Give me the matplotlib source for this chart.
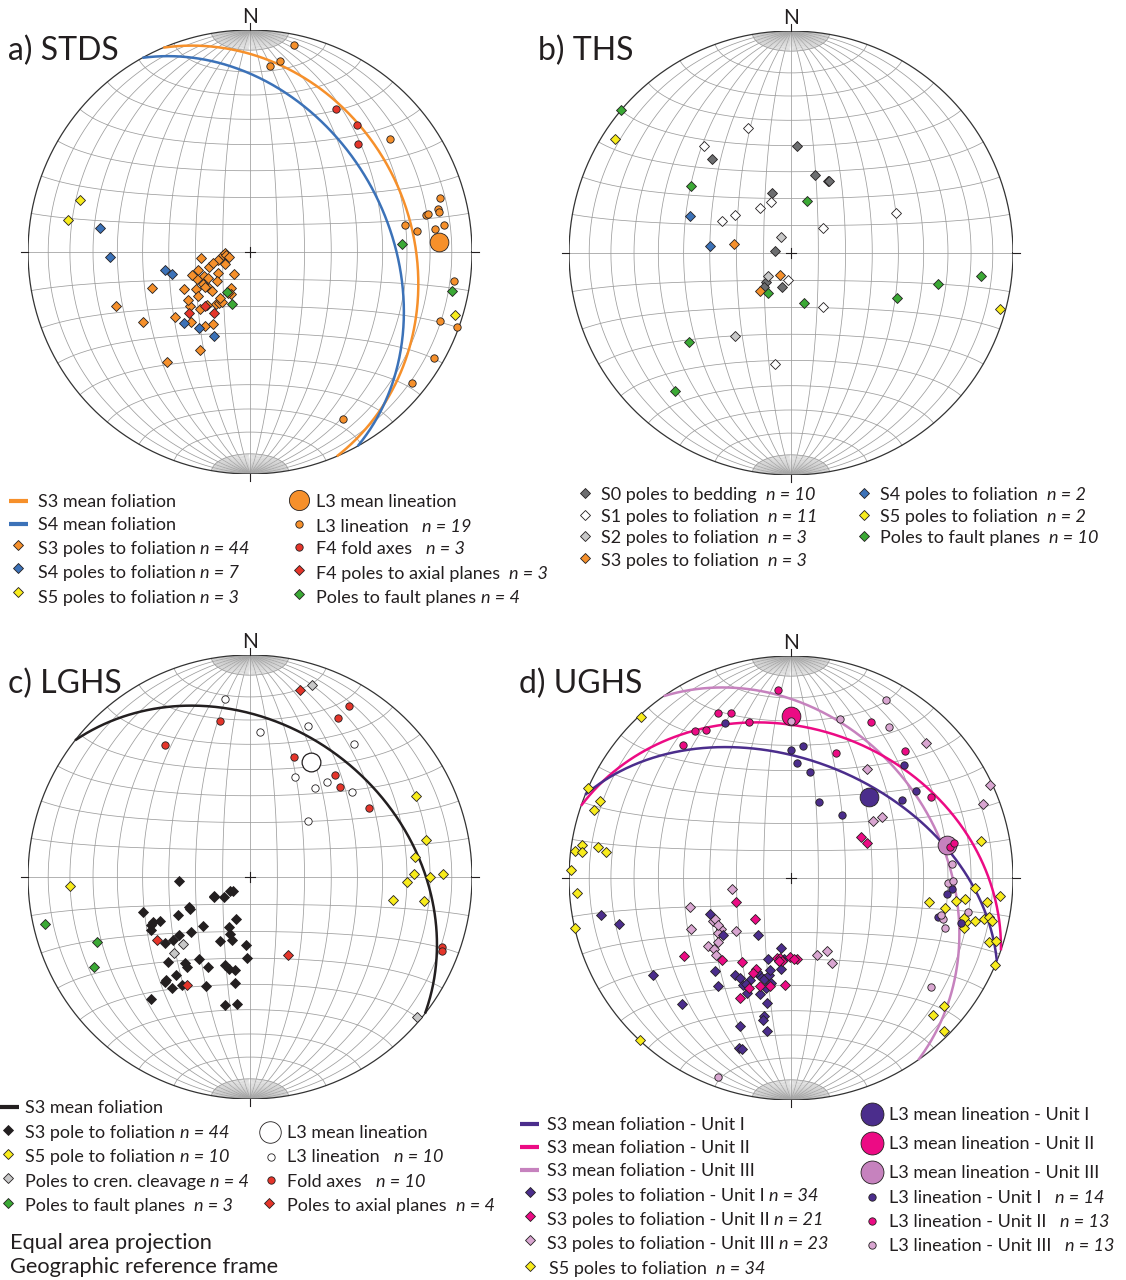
import numpy as np
import matplotlib.pyplot as plt

plt.rcParams['font.family'] = ['Lato', 'DejaVu Sans']

W, H = 1126, 1280
R = 222  # net radius in pixels
INK = '#231F20'

ORANGE = '#F6902B'
BLUE = '#3C72B8'
YELLOW = '#F8EC1C'
GREEN = '#3BA935'
RED = '#E5352A'
DGRAY = '#6D6E70'
LGRAY = '#C8C8C8'
U1 = '#4B2D8C'
U2 = '#EC0B84'
U3 = '#C682BE'
U3_LIGHT = '#D9A6D1'

# ---------------- data: (trend, plunge) for lines/poles, (dip dir, dip) for planes
# a) STDS
stds_s3_plane = (67, 28)
stds_s4_plane = (61, 38)
stds_l3_mean = [(87, 16)]
stds_l3 = [(12, 5), (9, 14), (6, 17), (51, 20), (74, 12), (77, 14), (78, 14), (78, 20),
           (78, 19), (80, 30), (83, 25), (83, 17), (82, 13), (98, 8), (110, 10), (110, 1),
           (120, 5), (129, 7), (151, 15)]
stds_f4_axes = [(31, 26), (40, 26), (45, 32)]
stds_s3_poles = [(263, 72), (264, 80), (267, 81), (263, 81), (257, 82), (255, 78), (244, 80),
                 (250, 74), (253, 76), (251, 70), (243, 71), (237, 76), (217, 80), (243, 68),
                 (236, 69), (229, 74), (228, 70), (250, 51), (241, 62), (236, 66), (232, 69),
                 (224, 70), (208, 75), (230, 65), (213, 67), (211, 68), (209, 69), (204, 73),
                 (228, 60), (221, 62), (219, 65), (248, 35), (229, 53), (237, 42), (220, 56),
                 (211, 58), (207, 60), (207, 49), (217, 38), (209, 73), (232, 61), (238, 72),
                 (248, 67), (213, 70)]
stds_s4_poles = [(279, 32), (268, 37), (258, 58), (254, 60), (223, 54), (214, 56), (203, 56)]
stds_s5_poles = [(287, 21), (280, 18), (107, 4)]
stds_faults = [(87, 32), (101, 8), (210, 73), (199, 70)]
stds_f4_axial = [(225, 58), (220, 64), (211, 64)]

# b) THS
ths_s0 = [(3, 50), (320, 44), (17, 60), (27, 60), (28, 60), (342, 67), (276, 84), (220, 76),
          (219, 74), (194, 77)]
ths_s1 = [(341, 40), (321, 38), (339, 70), (325, 70), (304, 65), (295, 62), (69, 48), (52, 75),
          (186, 80), (149, 67), (188, 48)]
ths_s2 = [(328, 83), (225, 78), (214, 53)]
ths_s3 = [(279, 69), (207, 81), (219, 72)]
ths_s4 = [(290, 50), (275, 60)]
ths_s5 = [(303, 6), (105, 3)]
ths_faults = [(310, 0), (304, 45), (17, 70), (210, 73), (166, 71), (113, 47), (102, 33),
              (97, 15), (229, 39), (220, 20)]

# c) LGHS
lghs_s3_plane = (38, 33)
lghs_s3 = [(267, 64), (242, 75), (232, 78), (236, 81), (231, 82), (244, 65), (242, 65), (252, 48),
           (242, 60), (198, 74), (245, 50), (244, 53), (242, 48), (224, 65), (203, 70), (227, 60),
           (199, 68), (231, 56), (231, 53), (232, 50), (205, 64), (196, 66), (183, 65), (224, 46),
           (212, 54), (217, 50), (215, 49), (205, 53), (196, 56), (193, 55), (189, 55), (182, 60),
           (217, 44), (219, 40), (215, 39), (212, 42), (202, 46), (188, 50), (219, 30), (191, 41),
           (186, 42), (244, 49), (219, 39), (241, 75)]
lghs_s5 = [(267, 20), (64, 18), (78, 20), (83, 26), (89, 27), (90, 20), (89, 14), (92, 30),
           (99, 35), (98, 22)]
lghs_cren = [(18, 10), (225, 55), (225, 50), (130, 2)]
lghs_faults = [(257, 6), (247, 26), (240, 20)]
lghs_axial = [(15, 14), (236, 48), (154, 58), (210, 43)]
lghs_fold_axes = [(349, 29), (327, 30), (30, 12), (29, 19), (20, 42), (40, 40), (45, 42),
                  (60, 38), (110, 9), (111, 8)]
lghs_l3 = [(352, 20), (4, 35), (21, 28), (38, 25), (24, 49), (39, 44), (36, 49), (50, 40),
           (46, 60), (28, 41)]
lghs_l3_mean = [(28, 41)]

# d) UGHS
ughs_plane_u1 = (22, 46)
ughs_plane_u2 = (19, 33)
ughs_plane_u3 = (55, 33)
ughs_mean_u1 = [(44, 48)]
ughs_mean_u2 = [(0, 28)]
ughs_mean_u3 = [(78, 29)]
ughs_s3_u1 = [(259, 14), (255, 21), (235, 25), (221, 26), (246, 57), (230, 57), (210, 66),
              (188, 64), (185, 60), (196, 59), (219, 45), (214, 41), (210, 48), (207, 48),
              (204, 46), (202, 49), (201, 44), (198, 52), (195, 51), (193, 53), (191, 50),
              (195, 45), (193, 48), (193, 55), (186, 56), (191, 42), (191, 37), (191, 35),
              (189, 31), (199, 30), (197, 21), (196, 21), (200, 53), (203, 47)]
ughs_s3_u2 = [(246, 68), (221, 70), (234, 40), (220, 50), (210, 54), (201, 54), (190, 60),
              (188, 60), (181, 61), (176, 60), (183, 50), (203, 41), (196, 48), (60, 60),
              (65, 59), (186, 59), (201, 46), (188, 59), (178, 60), (191, 49), (202, 52)]
ughs_s3_u3 = [(259, 68), (254, 51), (243, 48), (241, 57), (234, 58), (226, 62), (233, 56),
              (229, 54), (231, 50), (227, 51), (224, 50), (35, 40), (55, 53), (56, 49), (45, 15),
              (65, 1), (69, 8), (161, 60), (154, 60), (154, 55), (242, 58), (237, 58), (188, 59)]
ughs_s5 = [(317, 1), (294, 0), (292, 8), (289, 7), (279, 5), (277, 2), (277, 6), (279, 13),
           (278, 17), (272, 1), (266, 4), (257, 0), (223, 0), (79, 14), (93, 18), (95, 6),
           (100, 37), (101, 30), (98, 26), (97, 22), (97, 12), (104, 20), (103, 16), (102, 12),
           (101, 10), (106, 20), (108, 7), (107, 4), (113, 0), (130, 11), (134, 12), (135, 3),
           (103, 21), (102, 8)]
ughs_l3_u1 = [(337, 25), (0, 42), (5, 40), (3, 47), (10, 50), (20, 60), (39, 60), (45, 29),
              (55, 32), (55, 39), (94, 28), (96, 30), (105, 32), (105, 22)]
ughs_l3_u2 = [(356, 16), (336, 20), (340, 22), (345, 28), (327, 22), (330, 24), (321, 24),
              (27, 22), (20, 40), (42, 24), (60, 28), (79, 28), (78, 26)]
ughs_l3_u3 = [(0, 30), (17, 26), (28, 10), (33, 20), (85, 28), (92, 30), (91, 28), (101, 20),
              (105, 30), (108, 28), (128, 21), (200, 5), (104, 31)]


# ---------------- equal-area (Schmidt) lower hemisphere helpers
def project(tp):
    tp = np.asarray(tp, dtype=float).reshape(-1, 2)
    t = np.radians(tp[:, 0])
    p = np.radians(tp[:, 1])
    r = np.sqrt(2) * np.sin((np.pi / 2 - p) / 2)
    return r * np.sin(t), r * np.cos(t)


def vec_xy(n, e, d):
    k = 1 / np.sqrt(1 + d)
    return e * k, n * k


def plane_xy(plane):
    dipdir, dip = plane
    s = np.radians(dipdir - 90)
    dd = np.radians(dipdir)
    dp = np.radians(dip)
    th = np.linspace(0, np.pi, 361)
    n = np.cos(th) * np.cos(s) + np.sin(th) * np.cos(dp) * np.cos(dd)
    e = np.cos(th) * np.sin(s) + np.sin(th) * np.cos(dp) * np.sin(dd)
    d = np.sin(th) * np.sin(dp)
    return vec_xy(n, e, d)


fig = plt.figure(figsize=(W / 100, H / 100), dpi=100)
lay = fig.add_axes([0, 0, 1, 1])
lay.set_xlim(0, W)
lay.set_ylim(H, 0)
lay.axis('off')


def make_net(cx, cy):
    ax = fig.add_axes([(cx - R) / W, 1 - (cy + R) / H, 2 * R / W, 2 * R / H])
    ax.set_xlim(-1, 1)
    ax.set_ylim(-1, 1)
    ax.set_aspect('equal')
    ax.axis('off')
    grid = dict(color='#9D9D9D', lw=0.55, zorder=1)
    fine = dict(color='#B0B0B0', lw=0.28, zorder=1)
    th = np.radians(np.linspace(0, 180, 181))
    near_poles = np.radians(np.r_[np.linspace(0, 10, 11), np.nan, np.linspace(170, 180, 11)])
    # meridians (great circles through N and S), 2 deg fan near the poles
    for b in range(2, 180, 2):
        br = np.radians(b)
        tt = th if b % 10 == 0 else near_poles
        ax.plot(*vec_xy(np.cos(tt), np.sin(tt) * np.cos(br), np.sin(tt) * np.sin(br)),
                **(grid if b % 10 == 0 else fine))
    # small circles around the N-S axis
    phi = np.radians(np.linspace(0, 180, 181))
    for a in range(10, 180, 10):
        ar = np.radians(a)
        ax.plot(*vec_xy(np.cos(ar) + 0 * phi, np.sin(ar) * np.cos(phi), np.sin(ar) * np.sin(phi)), **grid)
    c = np.linspace(0, 2 * np.pi, 721)
    ax.plot(np.cos(c), np.sin(c), color='#333333', lw=0.9, zorder=2)
    for a in np.radians([0, 90, 180, 270]):
        ax.plot([np.sin(a), 1.03 * np.sin(a)], [np.cos(a), 1.03 * np.cos(a)],
                color=INK, lw=0.8, clip_on=False)
    ax.plot([-0.022, 0.022], [0, 0], color=INK, lw=0.8, zorder=2)
    ax.plot([0, 0], [-0.022, 0.022], color=INK, lw=0.8, zorder=2)
    ax.text(0, 1.032, 'N', ha='center', va='baseline', fontsize=15, color=INK, clip_on=False)
    return ax


def pts(ax, data, marker, color, ms, z=4, mew=0.6):
    x, y = project(data)
    ax.plot(x, y, ls='none', marker=marker, ms=ms, mfc=color, mec=INK, mew=mew,
            zorder=z, clip_on=False)


def gc(ax, plane, color, lw=1.8):
    ax.plot(*plane_xy(plane), color=color, lw=lw, zorder=3, solid_capstyle='butt')


DM = 5.5   # diamond size
SC = 5.3   # small circle size
BC = 13.5  # mean lineation size

# a) STDS
ax = make_net(250, 252)
gc(ax, stds_s3_plane, ORANGE)
gc(ax, stds_s4_plane, BLUE)
pts(ax, stds_s3_poles, 'D', ORANGE, DM)
pts(ax, stds_s4_poles, 'D', BLUE, DM)
pts(ax, stds_s5_poles, 'D', YELLOW, DM)
pts(ax, stds_faults, 'D', GREEN, DM)
pts(ax, stds_f4_axial, 'D', RED, DM)
pts(ax, stds_l3, 'o', ORANGE, SC)
pts(ax, stds_f4_axes, 'o', RED, SC)
pts(ax, stds_l3_mean, 'o', ORANGE, BC)

# b) THS
ax = make_net(791, 253)
pts(ax, ths_s0, 'D', DGRAY, DM)
pts(ax, ths_s1, 'D', 'white', DM)
pts(ax, ths_s2, 'D', LGRAY, DM)
pts(ax, ths_s3, 'D', ORANGE, DM)
pts(ax, ths_s4, 'D', BLUE, DM)
pts(ax, ths_s5, 'D', YELLOW, DM)
pts(ax, ths_faults, 'D', GREEN, DM)

# c) LGHS
ax = make_net(250, 877)
gc(ax, lghs_s3_plane, INK)
pts(ax, lghs_s3, 'D', INK, DM)
pts(ax, lghs_s5, 'D', YELLOW, DM)
pts(ax, lghs_cren, 'D', LGRAY, DM)
pts(ax, lghs_faults, 'D', GREEN, DM)
pts(ax, lghs_axial, 'D', RED, DM)
pts(ax, lghs_l3, 'o', 'white', SC)
pts(ax, lghs_fold_axes, 'o', RED, SC)
pts(ax, lghs_l3_mean, 'o', 'white', BC, mew=0.9)

# d) UGHS
ax = make_net(791, 878)
gc(ax, ughs_plane_u3, U3)
gc(ax, ughs_plane_u2, U2)
gc(ax, ughs_plane_u1, U1)
pts(ax, ughs_s5, 'D', YELLOW, DM)
pts(ax, ughs_s3_u3, 'D', U3_LIGHT, DM)
pts(ax, ughs_s3_u1, 'D', U1, DM)
pts(ax, ughs_s3_u2, 'D', U2, DM)
pts(ax, ughs_mean_u1, 'o', U1, BC)
pts(ax, ughs_mean_u2, 'o', U2, BC)
pts(ax, ughs_mean_u3, 'o', U3, BC)
pts(ax, ughs_l3_u1, 'o', U1, SC)
pts(ax, ughs_l3_u2, 'o', U2, SC)
pts(ax, ughs_l3_u3, 'o', U3_LIGHT, SC)

# ---------------- titles and legends (page pixel coordinates)
for x, y, s in [(8, 60, 'a) STDS'), (538, 60, 'b) THS'), (8, 693, 'c) LGHS'), (519, 693, 'd) UGHS')]:
    lay.text(x, y, s, fontsize=23, color=INK, va='baseline')

FS = 13


def leg_line(x, y, color):
    lay.plot([x, x + 19], [y, y], color=color, lw=3, solid_capstyle='butt')


def leg_mark(x, y, marker, color, ms):
    lay.plot([x], [y], ls='none', marker=marker, ms=ms, mfc=color, mec=INK, mew=0.6)


def leg_text(x, y, main, italic=None, size=FS):
    t = lay.text(x, y, main, fontsize=size, color=INK, va='baseline')
    if italic:
        lay.annotate(italic, xy=(1, 0), xycoords=t, va='bottom', ha='left',
                     fontsize=size, style='italic', color=INK)


# a
leg_line(9, 501, ORANGE); leg_text(38, 507, 'S3 mean foliation')
leg_line(9, 524, BLUE); leg_text(38, 530, 'S4 mean foliation')
leg_mark(18, 545, 'D', ORANGE, DM); leg_text(38, 554, 'S3 poles to foliation ', 'n = 44')
leg_mark(18, 568, 'D', BLUE, DM); leg_text(38, 578, 'S4 poles to foliation ', 'n = 7')
leg_mark(18, 592, 'D', YELLOW, DM); leg_text(38, 603, 'S5 poles to foliation ', 'n = 3')
leg_mark(299, 500, 'o', ORANGE, BC + 1); leg_text(316, 507, 'L3 mean lineation')
leg_mark(299, 524, 'o', ORANGE, SC); leg_text(316, 532, 'L3 lineation   ', 'n = 19')
leg_mark(299, 547, 'o', RED, SC); leg_text(316, 554, 'F4 fold axes   ', 'n = 3')
leg_mark(299, 570, 'D', RED, DM); leg_text(316, 579, 'F4 poles to axial planes  ', 'n = 3')
leg_mark(299, 594, 'D', GREEN, DM); leg_text(316, 603, 'Poles to fault planes ', 'n = 4')

# b
leg_mark(585, 493, 'D', DGRAY, DM); leg_text(601, 500, 'S0 poles to bedding  ', 'n = 10')
leg_mark(585, 515, 'D', 'white', DM); leg_text(601, 522, 'S1 poles to foliation  ', 'n = 11')
leg_mark(585, 536, 'D', LGRAY, DM); leg_text(601, 543, 'S2 poles to foliation  ', 'n = 3')
leg_mark(585, 558, 'D', ORANGE, DM); leg_text(601, 566, 'S3 poles to foliation  ', 'n = 3')
leg_mark(864, 493, 'D', BLUE, DM); leg_text(880, 500, 'S4 poles to foliation  ', 'n = 2')
leg_mark(864, 515, 'D', YELLOW, DM); leg_text(880, 522, 'S5 poles to foliation  ', 'n = 2')
leg_mark(864, 536, 'D', GREEN, DM); leg_text(880, 543, 'Poles to fault planes  ', 'n = 10')

# c
leg_line(0, 1107, INK); leg_text(25, 1113, 'S3 mean foliation')
leg_mark(8, 1130, 'D', INK, DM); leg_text(25, 1138, 'S3 pole to foliation ', 'n = 44')
leg_mark(8, 1154, 'D', YELLOW, DM); leg_text(25, 1162, 'S5 pole to foliation ', 'n = 10')
leg_mark(8, 1178, 'D', LGRAY, DM); leg_text(25, 1187, 'Poles to cren. cleavage ', 'n = 4')
leg_mark(8, 1203, 'D', GREEN, DM); leg_text(25, 1211, 'Poles to fault planes  ', 'n = 3')
leg_mark(270, 1132, 'o', 'white', BC + 2); leg_text(287, 1138, 'L3 mean lineation')
leg_mark(271, 1157, 'o', 'white', SC); leg_text(287, 1162, 'L3 lineation   ', 'n = 10')
leg_mark(271, 1180, 'o', RED, SC); leg_text(287, 1187, 'Fold axes   ', 'n = 10')
leg_mark(269, 1203, 'D', RED, DM); leg_text(287, 1211, 'Poles to axial planes  ', 'n = 4')
lay.text(10, 1249, 'Equal area projection', fontsize=15.7, color=INK, va='baseline')
lay.text(10, 1273, 'Geographic reference frame', fontsize=15.7, color=INK, va='baseline')

# d
leg_line(520, 1124, U1); leg_text(547, 1130, 'S3 mean foliation - Unit I')
leg_line(520, 1147, U2); leg_text(547, 1153, 'S3 mean foliation - Unit II')
leg_line(520, 1170, U3); leg_text(547, 1176, 'S3 mean foliation - Unit III')
leg_mark(530, 1192, 'D', U1, DM); leg_text(547, 1201, 'S3 poles to foliation - Unit I ', 'n = 34')
leg_mark(530, 1216, 'D', U2, DM); leg_text(547, 1225, 'S3 poles to foliation - Unit II ', 'n = 21')
leg_mark(530, 1240, 'D', U3_LIGHT, DM); leg_text(547, 1249, 'S3 poles to foliation - Unit III ', 'n = 23')
leg_mark(530, 1266, 'D', YELLOW, DM); leg_text(549, 1274, 'S5 poles to foliation  ', 'n = 34')
leg_mark(872, 1114, 'o', U1, BC + 3); leg_text(889, 1120, 'L3 mean lineation - Unit I')
leg_mark(872, 1143, 'o', U2, BC + 3); leg_text(889, 1149, 'L3 mean lineation - Unit II')
leg_mark(872, 1172, 'o', U3, BC + 3); leg_text(889, 1178, 'L3 mean lineation - Unit III')
leg_mark(872, 1197, 'o', U1, SC); leg_text(889, 1203, 'L3 lineation - Unit I   ', 'n = 14')
leg_mark(872, 1221, 'o', U2, SC); leg_text(889, 1227, 'L3 lineation - Unit II   ', 'n = 13')
leg_mark(872, 1245, 'o', U3_LIGHT, SC); leg_text(889, 1251, 'L3 lineation - Unit III   ', 'n = 13')

fig.savefig('out.png', dpi=100)
